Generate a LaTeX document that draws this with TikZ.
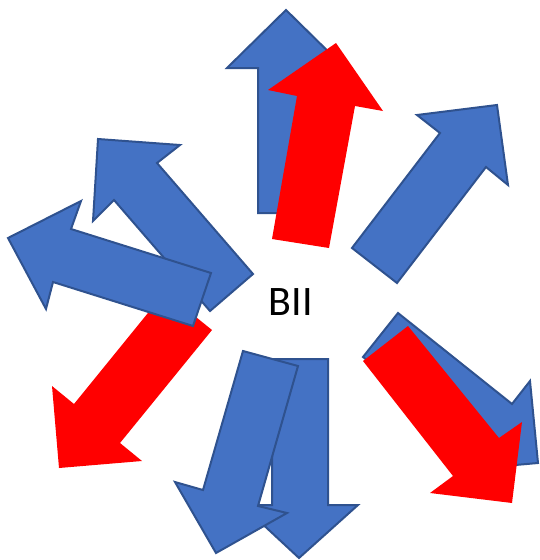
\documentclass[tikz,border=0pt]{standalone}
\usepackage{fontspec}
\setmainfont{Carlito}
\definecolor{arrowblue}{HTML}{4472C4}
\definecolor{arrowedge}{HTML}{2F528F}
\definecolor{arrowred}{HTML}{FF0000}
\begin{document}
\begin{tikzpicture}[x=1pt,y=-1pt,
  bluearrow/.style={fill=arrowblue,draw=arrowedge,line width=2pt,line join=miter},
  redarrow/.style={fill=arrowred},
  label/.style={font=\fontsize{42}{50}\selectfont,text=black,inner sep=0pt}]
\useasboundingbox (0,0) rectangle (540,560);
% upward pair at the top
\filldraw[bluearrow] (286,10) -- (345,68) -- (314,68) -- (314,213) -- (258,213) -- (258,68) -- (227,68) -- cycle;
\fill[redarrow] (336,43) -- (383,111) -- (355,106) -- (329,248) -- (272,239) -- (297,96) -- (268,90) -- cycle;
% upper right
\filldraw[bluearrow] (497,105) -- (508,185) -- (486,167) -- (397,283) -- (352,248) -- (440,133) -- (417,115) -- cycle;
% lower right pair
\filldraw[bluearrow] (398,313) -- (512,404) -- (530,381) -- (538,463) -- (459,470) -- (477,448) -- (363,357) -- cycle;
\fill[redarrow] (408,326) -- (499,438) -- (522,422) -- (512,503) -- (430,493) -- (453,476) -- (363,361) -- cycle;
% lower left
\fill[redarrow] (212,330) -- (120,443) -- (142,461) -- (59,468) -- (52,386) -- (74,404) -- (165,292) -- cycle;
% left pair
\filldraw[bluearrow] (98,139) -- (180,145) -- (157,163) -- (253,274) -- (210,311) -- (114,200) -- (93,221) -- cycle;
\filldraw[bluearrow] (8,238) -- (81,201) -- (71,229) -- (211,273) -- (193,326) -- (53,282) -- (46,309) -- cycle;
% downward pair at the bottom
\filldraw[bluearrow] (299,558) -- (358,505) -- (328,505) -- (328,359) -- (272,359) -- (272,505) -- (242,505) -- cycle;
\filldraw[bluearrow] (243,351) -- (298,366) -- (258,506) -- (287,513) -- (216,553) -- (175,482) -- (203,490) -- cycle;
% centre label
\node[label] (centre) at (291,302) {BII};
\end{tikzpicture}
\end{document}
